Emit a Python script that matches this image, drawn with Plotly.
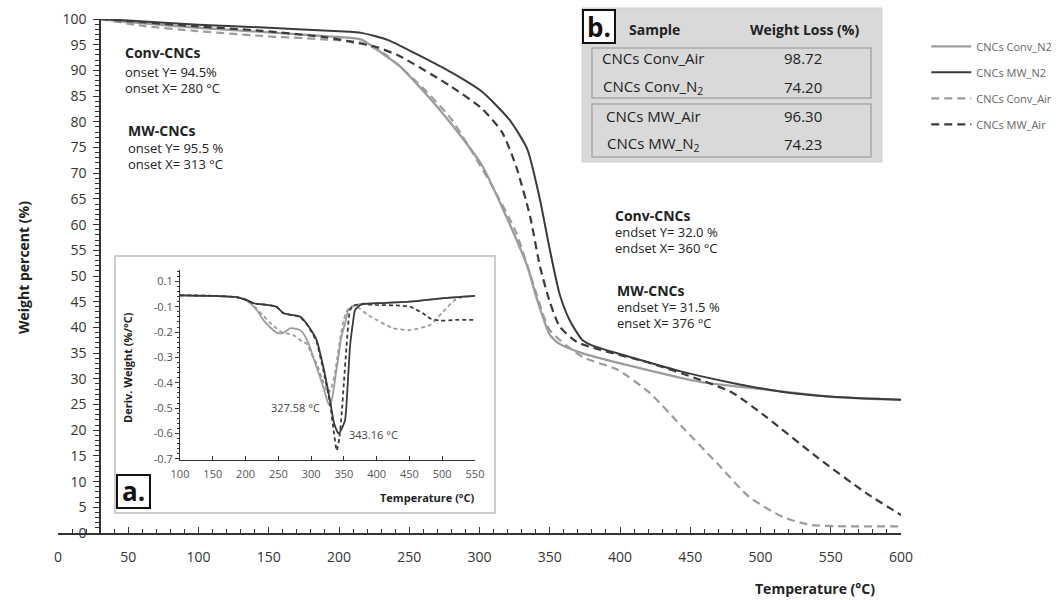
import plotly.graph_objects as go

# ---------------- data ----------------
# Main TGA curves: temperature (°C) and weight percent (%)
t_mw_n2 = [30, 50, 100, 150, 200, 216, 235, 255, 280, 302, 321, 334, 343, 350, 357, 364, 373, 380, 409, 444, 480, 515, 551, 600]
w_mw_n2 = [100, 99.7, 98.9, 98.3, 97.6, 97.3, 95.9, 93.2, 89.6, 85.8, 80.5, 74.7, 64.9, 55.2, 46.5, 41.5, 37.6, 36.5, 34.1, 31.4, 29.2, 27.5, 26.5, 25.9]

t_conv_n2 = [30, 50, 100, 150, 200, 216, 235, 243, 260, 279, 302, 319, 334, 341, 350, 357, 373, 409, 457, 504, 551, 600]
w_conv_n2 = [100, 99.4, 98.3, 97.4, 96.5, 96.0, 92.5, 90.9, 86.0, 79.9, 71.4, 61.6, 51.9, 45.4, 38.6, 36.8, 35.0, 32.4, 29.4, 27.9, 26.5, 25.9]

t_conv_air = [30, 62, 97, 145, 192, 216, 233, 260, 280, 309, 326, 338, 350, 373, 398, 421, 444, 469, 492, 516, 535, 560, 600]
w_conv_air = [100, 98.6, 97.7, 96.7, 96.0, 95.4, 93.1, 86.5, 80.5, 67.5, 58.5, 48.7, 39.5, 34.3, 31.8, 27.3, 20.7, 13.6, 7.0, 3.1, 1.6, 1.3, 1.3]

t_mw_air = [30, 50, 97, 145, 192, 208, 226, 243, 279, 302, 316, 326, 336, 343, 350, 357, 369, 385, 421, 457, 480, 504, 540, 575, 600]
w_mw_air = [100, 99.6, 98.6, 97.7, 96.4, 95.6, 94.6, 92.8, 87.0, 82.5, 78.0, 71.4, 61.6, 51.9, 45.0, 40.2, 37.2, 35.7, 33.1, 29.8, 27.3, 22.6, 14.8, 7.8, 3.5]

# Inset DTG curves (axis positions as drawn; top tick is labelled "0.1")
dt_mw_n2 = [100, 150, 186, 200, 212, 230, 247, 258, 283, 293, 303, 308.5, 318.6, 328.8, 335, 341.5, 345, 351.7, 356, 359.3, 364, 367, 374, 380, 400, 451, 502, 550]
dd_mw_n2 = [-0.055, -0.057, -0.062, -0.072, -0.086, -0.092, -0.1, -0.126, -0.139, -0.166, -0.205, -0.232, -0.338, -0.47, -0.56, -0.6, -0.59, -0.549, -0.40, -0.258, -0.16, -0.113, -0.095, -0.089, -0.086, -0.08, -0.066, -0.057]

dt_mw_air = [100, 150, 186, 200, 212, 230, 247, 258, 283, 293, 303, 308.5, 318.6, 328.8, 334, 339, 343, 346.6, 350, 354, 359.3, 365, 380, 398, 430, 451, 470, 481.5, 497, 520, 550]
dd_mw_air = [-0.055, -0.057, -0.062, -0.072, -0.086, -0.092, -0.1, -0.126, -0.14, -0.168, -0.21, -0.24, -0.35, -0.48, -0.58, -0.668, -0.62, -0.523, -0.40, -0.258, -0.113, -0.095, -0.09, -0.093, -0.095, -0.1, -0.125, -0.146, -0.155, -0.152, -0.152]

dt_conv_n2 = [100, 150, 186, 200, 207, 217, 227, 237, 247.5, 255, 262.7, 267.8, 272.8, 283, 288, 298, 303, 313.5, 320, 326, 328.8, 333, 338, 341.5, 346, 351.7, 356.7, 362, 369.5, 380, 400, 451, 502, 550]
dd_conv_n2 = [-0.055, -0.057, -0.062, -0.073, -0.086, -0.113, -0.152, -0.18, -0.202, -0.205, -0.195, -0.185, -0.185, -0.192, -0.205, -0.258, -0.298, -0.377, -0.43, -0.48, -0.49, -0.45, -0.36, -0.30, -0.22, -0.166, -0.113, -0.1, -0.093, -0.088, -0.086, -0.08, -0.066, -0.057]

dt_conv_air = [100, 150, 186, 200, 210, 225, 240, 255, 272.8, 288, 293, 303, 308.5, 316, 322, 326, 331, 336.4, 340, 344, 349, 354, 360, 370, 385, 400, 425, 451, 481.5, 501.6, 519.5, 535, 550]
dd_conv_air = [-0.055, -0.057, -0.062, -0.072, -0.09, -0.13, -0.17, -0.2, -0.212, -0.24, -0.245, -0.3, -0.324, -0.38, -0.42, -0.44, -0.42, -0.364, -0.30, -0.232, -0.16, -0.119, -0.1, -0.1, -0.13, -0.152, -0.185, -0.192, -0.172, -0.119, -0.073, -0.06, -0.057]

# Tick labels
main_x_ticks = list(range(0, 601, 50))
main_y_ticks = list(range(0, 101, 5))
inset_x_ticks = list(range(100, 551, 50))
inset_y_vals = [0.0, -0.1, -0.2, -0.3, -0.4, -0.5, -0.6, -0.7]
inset_y_text = ["0.1", "-0.1", "-0.2", "-0.3", "-0.4", "-0.5", "-0.6", "-0.7"]

# Table b.
table_samples = ["CNCs Conv_Air", "CNCs Conv_N<sub>2</sub>", "CNCs MW_Air", "CNCs MW_N<sub>2</sub>"]
table_loss = ["98.72", "74.20", "96.30", "74.23"]

# ---------------- styling / layout ----------------
DARK = "#3b3b3b"
LIGHT = "#9c9c9c"
FONT = "Open Sans"
W, H = 1062, 600
L, R, T, B = 58, 161, 19, 67
PW, PH = W - L - R, H - T - B


def P(px, py):
    return (px - L) / PW, (H - B - py) / PH


fig = go.Figure()

main = [
    ("CNCs Conv_N2", t_conv_n2, w_conv_n2, LIGHT, "solid", 2.3, "g1"),
    ("CNCs MW_N2", t_mw_n2, w_mw_n2, DARK, "solid", 2.0, "g2"),
    ("CNCs Conv_Air", t_conv_air, w_conv_air, LIGHT, "8px,5px", 2.2, "g3"),
    ("CNCs MW_Air", t_mw_air, w_mw_air, DARK, "8px,5px", 2.2, "g4"),
]
for name, x, y, c, d, w, g in main:
    fig.add_trace(go.Scatter(x=x, y=y, name=name, mode="lines", legendgroup=g,
                             line=dict(color=c, dash=d, width=w, shape="spline", smoothing=0.6)))

inset = [
    (dt_conv_n2, dd_conv_n2, LIGHT, "solid", 1.8),
    (dt_conv_air, dd_conv_air, LIGHT, "4px,3px", 1.8),
    (dt_mw_n2, dd_mw_n2, DARK, "solid", 1.8),
    (dt_mw_air, dd_mw_air, DARK, "4px,3px", 1.8),
]
for x, y, c, d, w in inset:
    fig.add_trace(go.Scatter(x=x, y=y, mode="lines", showlegend=False, xaxis="x2", yaxis="y2",
                             line=dict(color=c, dash=d, width=w, shape="spline", smoothing=0.5)))

shapes = []
annotations = []


def rect(x0, y0, x1, y1, fill, line, lw, layer="below"):
    a = P(x0, y1)
    b = P(x1, y0)
    shapes.append(dict(type="rect", xref="paper", yref="paper", x0=a[0], y0=a[1], x1=b[0], y1=b[1],
                       fillcolor=fill, line=dict(color=line, width=lw), layer=layer))


def text(px, py, s, size=13, color="#333", xanchor="left", bold=False, angle=0):
    x, y = P(px, py)
    annotations.append(dict(xref="paper", yref="paper", x=x, y=y, text=("<b>%s</b>" % s) if bold else s,
                            showarrow=False, xanchor=xanchor, yanchor="middle", textangle=angle,
                            font=dict(family=FONT, size=size, color=color)))


# inset frame
rect(115, 256, 495, 513, "white", "#bdbdbd", 1.5)
rect(117, 475, 150, 508, "white", "#111", 2, layer="above")
text(133.5, 491, "a.", size=26, color="#111", xanchor="center", bold=True)

# table b.
rect(582, 8, 882, 162, "#d9d9d9", "#d0d0d0", 1)
rect(592, 48, 871, 98, "rgba(0,0,0,0)", "#a8a8a8", 1.5)
rect(592, 104, 871, 157, "rgba(0,0,0,0)", "#a8a8a8", 1.5)
rect(583, 10, 615, 43, "white", "#111", 2, layer="above")
text(599, 27, "b.", size=26, color="#111", xanchor="center", bold=True)
text(654, 29, "Sample", size=14, color="#222", xanchor="center", bold=True)
text(804, 29, "Weight Loss (%)", size=14, color="#222", xanchor="center", bold=True)
for i, (s, v) in enumerate(zip(table_samples, table_loss)):
    yy = [58, 87, 116, 144][i]
    text(653, yy, s, size=15, color="#222", xanchor="center")
    text(803, yy, v, size=15, color="#222", xanchor="center")

# onset / endset notes
text(123, 53, "Conv-CNCs", size=14, color="#222", bold=True)
text(123, 72, "onset Y= 94.5%", size=13, color="#222")
text(123, 88, "onset X= 280 °C", size=13, color="#222")
text(126, 130, "MW-CNCs", size=14, color="#222", bold=True)
text(126, 148, "onset Y= 95.5 %", size=13, color="#222")
text(126, 164, "onset X= 313 °C", size=13, color="#222")
text(613, 215, "Conv-CNCs", size=14, color="#222", bold=True)
text(613, 232, "endset Y= 32.0 %", size=13, color="#222")
text(613, 248, "endset X= 360 °C", size=13, color="#222")
text(615, 290, "MW-CNCs", size=14, color="#222", bold=True)
text(615, 307, "endset Y= 31.5 %", size=13, color="#222")
text(615, 323, "enset X= 376 °C", size=13, color="#222")

# axis titles
text(23, 268, "Weight percent (%)", size=14, color="#222", xanchor="center", bold=True, angle=-90)
text(815, 588, "Temperature (°C)", size=14, color="#222", xanchor="center", bold=True)
text(477, 497, "Temperature (°C)", size=11, color="#222", xanchor="right", bold=True)
text(127, 368, "Deriv. Weight (%/°C)", size=11, color="#222", xanchor="center", bold=True, angle=-90)

# inset peak labels
annotations.append(dict(xref="x2", yref="y2", x=316.6, y=-0.498, text="327.58 °C", showarrow=False,
                        xanchor="right", yanchor="middle", font=dict(family=FONT, size=11, color="#444")))
annotations.append(dict(xref="x2", yref="y2", x=354.7, y=-0.605, text="343.16 °C", showarrow=False,
                        xanchor="left", yanchor="middle", font=dict(family=FONT, size=11, color="#444")))

ix0, _ = P(180, 0)
ix1, _ = P(475, 0)
_, iy0 = P(0, 460)
_, iy1 = P(0, 270)

fig.update_layout(
    width=W, height=H, margin=dict(l=L, r=R, t=T, b=B, autoexpand=False),
    plot_bgcolor="white", paper_bgcolor="white",
    font=dict(family=FONT, size=14, color="#333"),
    shapes=shapes, annotations=annotations,
    showlegend=True,
    legend=dict(x=1.03, y=0.975, xanchor="left", yanchor="top", bgcolor="rgba(0,0,0,0)",
                font=dict(family=FONT, size=11, color="#666"), tracegroupgap=7, itemwidth=40),
    xaxis=dict(range=[0, 600], tickvals=main_x_ticks, showline=True, linecolor="#333", linewidth=1.5,
               ticks="inside", ticklen=6, tickcolor="#333", showgrid=False, zeroline=False,
               minor=dict(dtick=10, ticks="inside", ticklen=4, tickcolor="#333"),
               tickfont=dict(size=14, color="#333"), ticklabelstandoff=10),
    yaxis=dict(range=[0, 100], tickvals=main_y_ticks, anchor="free", position=30 / 600,
               showline=True, linecolor="#333", linewidth=1.5,
               ticks="outside", ticklen=6, tickcolor="#333", showgrid=False, zeroline=False,
               minor=dict(dtick=1, ticks="outside", ticklen=4, tickcolor="#333"),
               tickfont=dict(size=14, color="#333"), ticklabelstandoff=4),
    xaxis2=dict(domain=[ix0, ix1], anchor="y2", range=[100, 550], tickvals=inset_x_ticks,
                showline=True, linecolor="#333", linewidth=1.2, ticks="inside", ticklen=4,
                tickcolor="#333", showgrid=False, zeroline=False,
                tickfont=dict(size=11, color="#555"), ticklabelstandoff=4),
    yaxis2=dict(domain=[iy0, iy1], anchor="x2", range=[-0.705, 0.045], tickvals=inset_y_vals,
                ticktext=inset_y_text, showline=True, linecolor="#333", linewidth=1.2,
                ticks="outside", ticklen=4, tickcolor="#333", showgrid=False, zeroline=False,
                minor=dict(dtick=0.02, ticks="outside", ticklen=2, tickcolor="#333"),
                tickfont=dict(size=11, color="#555")),
)

fig.write_html("out.html")
